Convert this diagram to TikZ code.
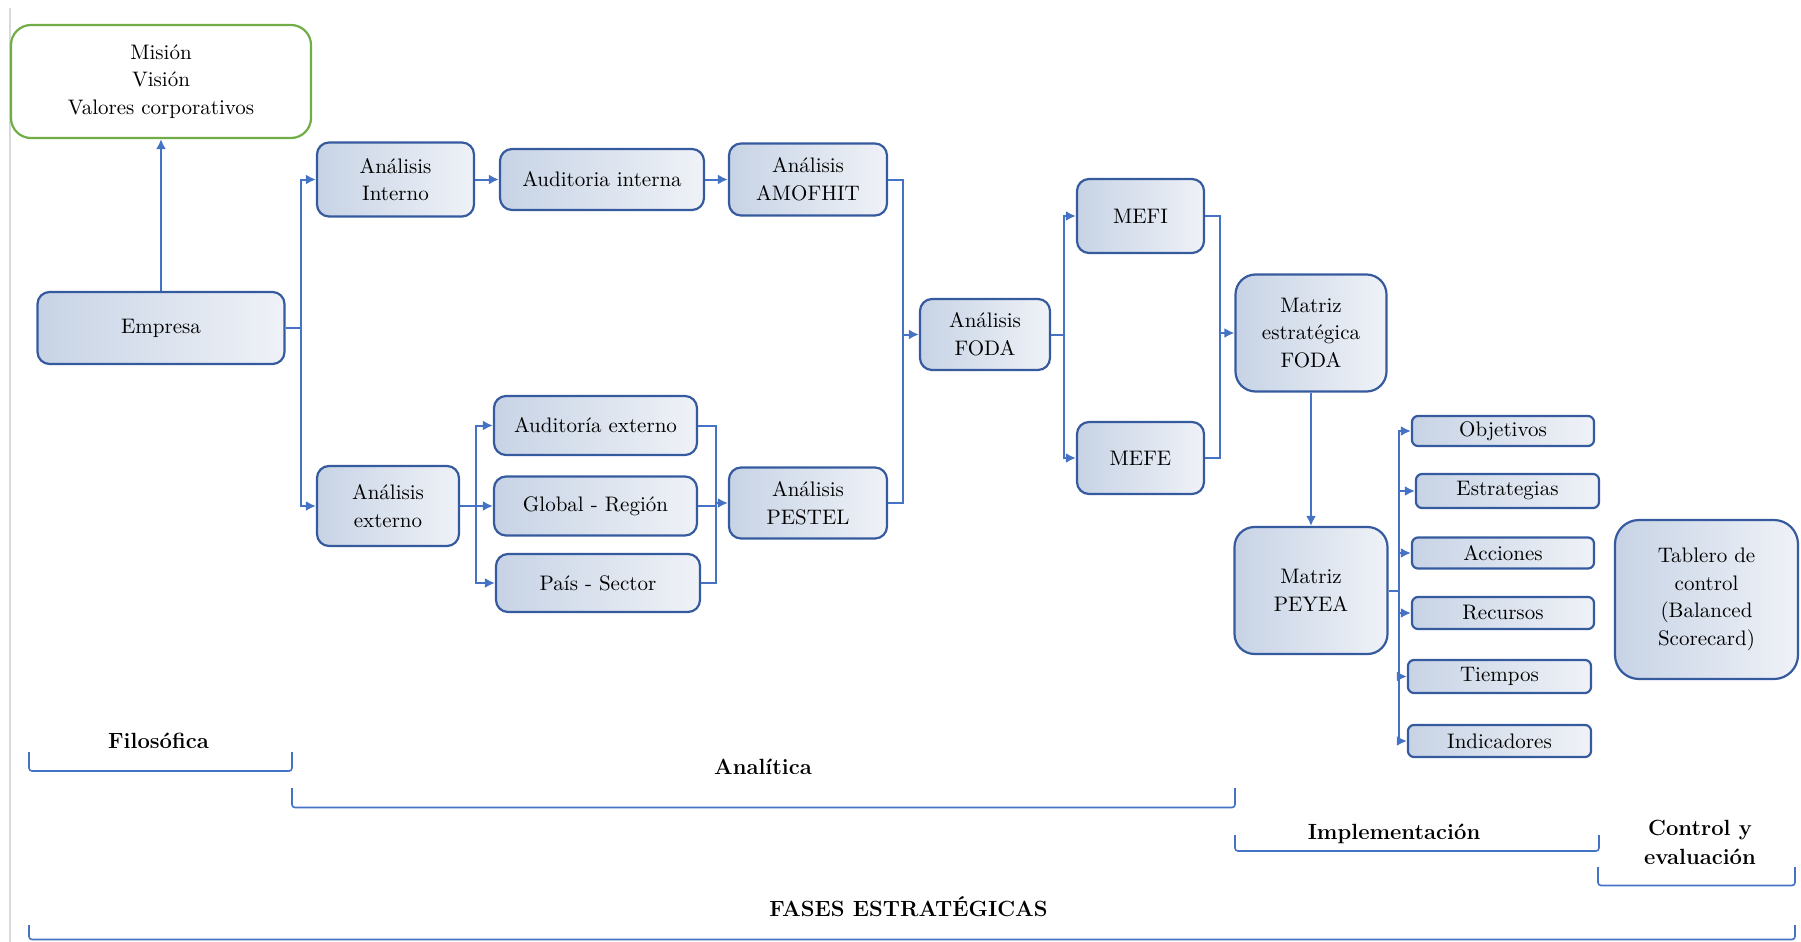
\documentclass[tikz,border=0pt]{standalone}
\usepackage{tikz}
\usetikzlibrary{arrows,arrows.meta,backgrounds,calc,positioning}
\definecolor{boxedge}{RGB}{54,90,158}
\definecolor{linkblue}{RGB}{68,114,196}
\definecolor{mvgreen}{RGB}{112,173,71}
\definecolor{shadeL}{RGB}{199,211,229}
\definecolor{shadeR}{RGB}{239,242,247}

\begin{document}
\begin{tikzpicture}[x=0.5pt,y=-0.5pt,
  box/.style={draw=boxedge,line width=1.1pt,rounded corners=6pt,left color=shadeL,right color=shadeR,
    align=center,inner sep=2pt,font=\fontsize{10.5}{13.8}\selectfont},
  smallbox/.style={box,rounded corners=3pt},
  bigbox/.style={box,rounded corners=10pt},
  link/.style={draw=linkblue,line width=1pt},
  tip/.style={-{Latex[length=5pt,width=5pt]}},
  phase/.style={align=center,font=\fontsize{11}{14.4}\selectfont\bfseries},
  brace/.style={draw=linkblue,line width=0.8pt,rounded corners=1.5pt}]
\useasboundingbox (0,0) rectangle (1801,942);
\draw[black!15,line width=1pt] (10,8) -- (10,942);
\node[box,draw=mvgreen,fill=white,left color=white,right color=white,rounded corners=10pt,minimum width=150pt,minimum height=56.5pt] (mision) at (161,81.5) {Misión\\Visión\\Valores corporativos};
\node[box,minimum width=123.5pt,minimum height=36pt] (empresa) at (161,328) {Empresa};
\node[box,minimum width=78.5pt,minimum height=37pt] (aint) at (395.5,179.5) {Análisis\\Interno};
\node[box,minimum width=102pt,minimum height=30.5pt] (audint) at (602,179.5) {Auditoria interna};
\node[box,minimum width=79pt,minimum height=36pt] (amofhit) at (808,179.5) {Análisis\\AMOFHIT};
\node[box,minimum width=71pt,minimum height=40pt] (aext) at (388,506) {Análisis\\externo};
\node[box,minimum width=101.5pt,minimum height=29.5pt] (audext) at (595.5,425.5) {Auditoría externo};
\node[box,minimum width=101.5pt,minimum height=29.5pt] (global) at (595.5,506) {Global - Región};
\node[box,minimum width=102pt,minimum height=29pt] (pais) at (598,583) {País - Sector};
\node[box,minimum width=79pt,minimum height=35.5pt] (pestel) at (808,503) {Análisis\\PESTEL};
\node[box,minimum width=65pt,minimum height=35.5pt] (foda) at (985,334.5) {Análisis\\FODA};
\node[box,minimum width=63.5pt,minimum height=37pt] (mefi) at (1140.5,216) {MEFI};
\node[box,minimum width=63.5pt,minimum height=36pt] (mefe) at (1140.5,458) {MEFE};
\node[bigbox,minimum width=75.5pt,minimum height=58.5pt] (mfoda) at (1311,333) {Matriz\\estratégica\\FODA};
\node[bigbox,minimum width=76.5pt,minimum height=63.5pt] (peyea) at (1311,590.5) {Matriz\\PEYEA};
\node[smallbox,minimum width=91pt,minimum height=15pt] (obj) at (1503,431) {Objetivos};
\node[smallbox,minimum width=91.5pt,minimum height=17pt] (estr) at (1507.5,491) {Estrategias};
\node[smallbox,minimum width=91pt,minimum height=15.5pt] (acc) at (1503,553) {Acciones};
\node[smallbox,minimum width=91pt,minimum height=16pt] (rec) at (1503,613) {Recursos};
\node[smallbox,minimum width=91.5pt,minimum height=16.5pt] (tiem) at (1499.5,676.5) {Tiempos};
\node[smallbox,minimum width=91.5pt,minimum height=16pt] (ind) at (1499.5,741) {Indicadores};
\node[box,rounded corners=12pt,minimum width=91.5pt,minimum height=79.5pt] (tablero) at (1706.5,599.5) {Tablero de\\control\\(Balanced\\Scorecard)};
\coordinate (j1) at (301,0);
\coordinate (j2) at (475.5,0);
\coordinate (j3) at (715.5,0);
\coordinate (j4) at (903,0);
\coordinate (j5) at (1063.5,0);
\coordinate (j6) at (1220,0);
\coordinate (j7) at (1399,0);
\draw[link,tip] (empresa.north) -- (empresa.north |- mision.south);
\draw[link] (empresa.east) -- (empresa.east -| j1);
\draw[link,tip] (empresa.east -| j1) |- (aint.west);
\draw[link,tip] (empresa.east -| j1) |- (aext.west);
\draw[link,tip] (aint.east) -- (audint.west);
\draw[link,tip] (audint.east) -- (amofhit.west);
\draw[link] (aext.east) -- (aext.east -| j2);
\draw[link,tip] (aext.east -| j2) |- (audext.west);
\draw[link,tip] (aext.east -| j2) -- (global.west);
\draw[link,tip] (aext.east -| j2) |- (pais.west);
\draw[link] (audext.east) -| (j3 |- pais.east) -- (pais.east);
\draw[link] (global.east) -- (global.east -| j3);
\draw[link,tip] (j3 |- pestel.west) -- (pestel.west);
\draw[link] (amofhit.east) -| (j4 |- pestel.east) -- (pestel.east);
\draw[link,tip] (j4 |- foda.west) -- (foda.west);
\draw[link] (foda.east) -- (foda.east -| j5);
\draw[link,tip] (foda.east -| j5) |- (mefi.west);
\draw[link,tip] (foda.east -| j5) |- (mefe.west);
\draw[link] (mefi.east) -| (j6 |- mefe.east) -- (mefe.east);
\draw[link,tip] (j6 |- mfoda.west) -- (mfoda.west);
\draw[link,tip] (mfoda.south) -- (peyea.north);
\draw[link] (peyea.east) -- (peyea.east -| j7);
\foreach \n in {obj,estr,acc,rec,tiem,ind}
  \draw[link,tip] (peyea.east -| j7) |- (\n.west);
\draw[brace] (29,752) -- (29,771) -- (292,771) -- (292,752);
\node[phase] (filo) at (158.5,741) {Filosófica};
\draw[brace] (292,788) -- (292,807.5) -- (1235,807.5) -- (1235,788);
\node[phase] (anal) at (763,767) {Analítica};
\draw[brace] (1235,835) -- (1235,851) -- (1599,851) -- (1599,835);
\node[phase] (impl) at (1394,834) {Implementación};
\draw[brace] (1598,867) -- (1598,885.5) -- (1795,885.5) -- (1795,867);
\node[phase] (ctrl) at (1700,842) {Control y\\evaluación};
\draw[brace] (29,925) -- (29,939.5) -- (1795,939.5) -- (1795,925);
\node[phase] (fases) at (908.5,907) {FASES ESTRATÉGICAS};
\end{tikzpicture}
\end{document}
